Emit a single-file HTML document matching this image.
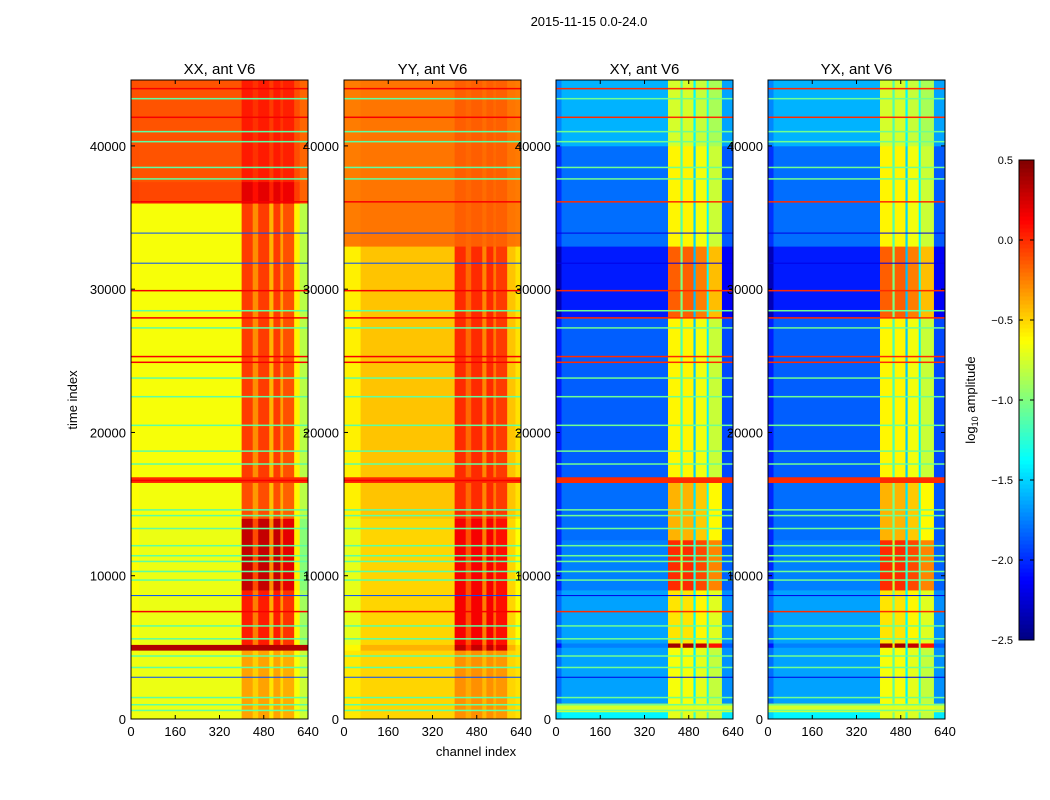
<!DOCTYPE html>
<html><head><meta charset="utf-8">
<style>
body{margin:0;background:#fff;}
svg{display:block;font-family:"Liberation Sans",sans-serif;}
</style></head>
<body>
<svg id="fig" width="1050" height="800" viewBox="0 0 1050 800" xmlns="http://www.w3.org/2000/svg">
<rect width="1050" height="800" fill="#fff"/>
<text x="589" y="26" font-size="13" text-anchor="middle">2015-11-15 0.0-24.0</text>
<text x="77" y="400" font-size="13" text-anchor="middle" transform="rotate(-90 77 400)">time index</text>
<text x="476" y="756" font-size="13" text-anchor="middle">channel index</text>
<g id="panels"></g>
<g id="cbar"></g>
<text x="975" y="400" font-size="13" text-anchor="middle" transform="rotate(-90 975 400)">log<tspan font-size="9" dy="3">10</tspan><tspan dy="-3"> amplitude</tspan></text>
</svg>
<script>
// ---- data ----
const panelTitles = ["XX, ant V6","YY, ant V6","XY, ant V6","YX, ant V6"];
const xTicks = [0,160,320,480,640];
const yTicks = [0,10000,20000,30000,40000];
const cbTicks = [0.5,0.0,-0.5,-1.0,-1.5,-2.0,-2.5];
// row segments: start times, base value, hot-column value
const xxRowStart = [0,4800,5200,9000,14000,16500,16900,36000,37500];
const xxRowBase  = [-0.68,0.35,-0.68,-0.68,-0.66,0.0,-0.65,-0.08,-0.12];
const xxRowHot   = [-0.35,0.35,0.05,0.3,-0.1,0.0,-0.05,0.2,0.05];
const yyRowStart = [0,4800,5200,14000,16500,16900,33000];
const yyRowBase  = [-0.5,-0.4,-0.5,-0.45,0.0,-0.45,-0.22];
const yyRowHot   = [-0.3,0.3,0.15,0.0,0.0,0.0,-0.15];
const xyRowStart = [0,500,1100,5000,5300,9000,12500,16500,16900,28000,33000,40000];
const xyRowBase  = [-1.4,-0.75,-1.65,-1.75,-1.65,-1.75,-1.8,0.0,-1.85,-2.05,-1.8,-1.6];
const xyRowHot   = [-0.7,-0.7,-0.65,0.4,-0.55,0.0,-0.4,0.0,-0.6,-0.15,-0.6,-0.75];
const yxRowStart = [0,500,1100,5000,5300,9000,12500,16500,16900,28000,33000,40000];
const yxRowBase  = [-1.4,-0.75,-1.65,-1.75,-1.65,-1.75,-1.8,0.0,-1.85,-2.05,-1.8,-1.6];
const yxRowHot   = [-0.7,-0.7,-0.65,0.4,-0.55,0.0,-0.4,0.0,-0.6,-0.15,-0.6,-0.75];
// column segments: edges and hot weights
const xxColEdges = [0,30,400,440,460,500,515,540,550,590,610,640];
const xxColW     = [0.05,0,1,0.6,1,0.4,1,0.5,0.9,0.1,-0.3];
const yyColEdges = [0,60,400,440,460,500,515,540,550,590,620,640];
const yyColW     = [-0.3,0,1,0.6,1,0.4,1,0.5,0.9,0,-0.2];
const xyColEdges = [0,20,405,450,458,497,505,545,552,600,640];
const xyColW     = [-0.15,0,1,0.55,1,0.25,0.95,0.35,0.85,-0.05];
const yxColEdges = [0,20,405,450,458,497,505,545,552,600,640];
const yxColW     = [-0.15,0,1,0.55,1,0.25,0.95,0.35,0.85,-0.05];
// thin horizontal lines (time) with kind: 0=cyan-ish, 1=red, 2=dark
const lineT    = [600,1000,1500,2900,3600,4400,5600,6500,7500,8600,9700,10300,11000,11400,12100,13300,14200,14600,16650,17800,18700,20500,22500,23800,24900,25300,27300,28000,28500,29900,31800,33900,36100,37700,38500,40300,41000,42000,43300,44000];
const lineKind = [0,0,0,2,0,0,0,0,1,2,0,0,0,0,0,0,0,0,1,0,0,0,0,0,1,1,0,1,0,1,2,2,1,0,0,0,0,1,0,1];
const xxKindV = [-1.1,0.15,-1.9];
const yyKindV = [-1.1,0.15,-1.9];
const xyKindV = [-1.05,0.0,-2.2];
const yxKindV = [-1.05,0.0,-2.2];

// ---- layout ----
const panelLeft=[131,344,556,768], PW=177, PT=80, PB=719, YMAX=44600;
const NS="http://www.w3.org/2000/svg";
function mk(tag,attrs,parent){const e=document.createElementNS(NS,tag);for(const k in attrs)e.setAttribute(k,attrs[k]);parent.appendChild(e);return e;}
function clamp(v){return Math.max(0,Math.min(1,v));}
function jet(v){const t=clamp((v+2.5)/3);const r=clamp(1.5-Math.abs(4*t-3)),g=clamp(1.5-Math.abs(4*t-2)),b=clamp(1.5-Math.abs(4*t-1));return `rgb(${Math.round(r*255)},${Math.round(g*255)},${Math.round(b*255)})`;}
const panelsData=[
 [xxRowStart,xxRowBase,xxRowHot,xxColEdges,xxColW,xxKindV],
 [yyRowStart,yyRowBase,yyRowHot,yyColEdges,yyColW,yyKindV],
 [xyRowStart,xyRowBase,xyRowHot,xyColEdges,xyColW,xyKindV],
 [yxRowStart,yxRowBase,yxRowHot,yxColEdges,yxColW,yxKindV]];
const root=document.getElementById('panels');
panelsData.forEach((pd,p)=>{
 const [rs,rb,rh,ce,cw,kv]=pd;
 const L=panelLeft[p];
 const xs=c=>L+c/640*PW, ys=t=>PB-t/YMAX*(PB-PT);
 const g=mk('g',{},root);
 
 
 rs.forEach((s,i)=>{
  const e=i+1<rs.length?rs[i+1]:YMAX;
  for(let j=0;j<cw.length;j++){
   const v=rb[i]+(rh[i]-rb[i])*cw[j];
   const r=mk('rect',{x:xs(ce[j]),y:ys(e),width:xs(ce[j+1])-xs(ce[j])+0.4,height:ys(s)-ys(e)+0.4,fill:jet(v)},g);
   
   
  }
 });
 lineT.forEach((t,i)=>{
  const r=mk('rect',{x:L,y:ys(t)-0.7,width:PW,height:lineKind[i]===2?1:1.5,fill:jet(kv[lineKind[i]])},g);
  
  
 });
 const fr=mk('rect',{x:L,y:PT,width:PW,height:PB-PT,fill:'none',stroke:'#000','stroke-width':1},g);
 
 
 const tt=mk('text',{x:L+PW/2,y:PT-6,'font-size':15,'text-anchor':'middle'},g);
 tt.textContent=panelTitles[p];
 
 
 xTicks.forEach(c=>{
  mk('line',{x1:xs(c),x2:xs(c),y1:PB,y2:PB-4,stroke:'#000'},g);
  mk('line',{x1:xs(c),x2:xs(c),y1:PT,y2:PT+4,stroke:'#000'},g);
  const t=mk('text',{x:xs(c),y:PB+17,'font-size':13,'text-anchor':'middle'},g);
  t.textContent=c;
  
  
 });
 yTicks.forEach(v=>{
  mk('line',{x1:L,x2:L+4,y1:ys(v),y2:ys(v),stroke:'#000'},g);
  mk('line',{x1:L+PW,x2:L+PW-4,y1:ys(v),y2:ys(v),stroke:'#000'},g);
  const t=mk('text',{x:L-5,y:ys(v)+5,'font-size':13,'text-anchor':'end'},g);
  t.textContent=v;
  
  
 });
});
// colorbar
const cb=document.getElementById('cbar');
const CBX=1019,CBW=15,CBT=160,CBB=640;
const cys=v=>CBT+(0.5-v)/3*(CBB-CBT);
for(let i=0;i<120;i++){
 const v0=-2.5+i*0.025;
 mk('rect',{x:CBX,y:cys(v0+0.025),width:CBW,height:(CBB-CBT)/120+0.5,fill:jet(v0+0.0125)},cb);
}
mk('rect',{x:CBX,y:CBT,width:CBW,height:CBB-CBT,fill:'none',stroke:'#000'},cb);
cbTicks.forEach(v=>{
 mk('line',{x1:CBX+CBW,x2:CBX+CBW-4,y1:cys(v),y2:cys(v),stroke:'#000'},cb);
 mk('line',{x1:CBX,x2:CBX+4,y1:cys(v),y2:cys(v),stroke:'#000'},cb);
 const t=mk('text',{x:1013,y:cys(v)+4,'font-size':11,'text-anchor':'end'},cb);
 t.textContent=(v<0?'\u2212':'')+Math.abs(v).toFixed(1);
 
 
});
</script>
</body></html>
